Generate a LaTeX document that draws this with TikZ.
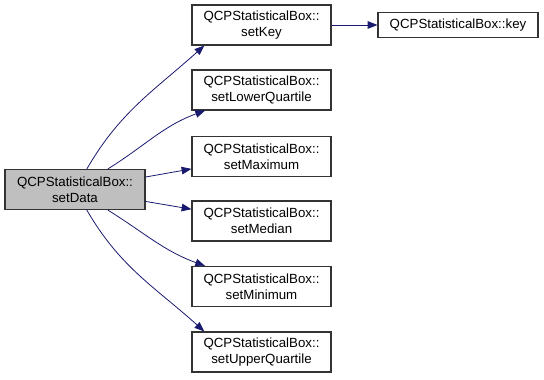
\documentclass[tikz,border=0pt]{standalone}
\usepackage{fontspec}
\setmainfont{Liberation Sans}
\usetikzlibrary{arrows.meta}

\definecolor{edgeblue}{HTML}{191970}
\definecolor{boxgray}{HTML}{BFBFBF}

\begin{document}
\begin{tikzpicture}[
    func/.style={rectangle, draw=black!80, line width=0.8pt, fill=white, minimum width=3.678cm, minimum height=1.058cm, inner sep=0pt, align=center, font=\fontsize{10}{12}\selectfont},
    arrow/.style={-{Triangle[length=2.6mm, width=2mm]}, edgeblue, line width=0.6pt}
]
\useasboundingbox (0, 0) rectangle (14.393, -10.028);

% Caller
\node[func, fill=boxgray, minimum width=3.704cm] (sd) at (1.984, -5.014) {QCPStatisticalBox::\\setData};

% Callees
\node[func] (sk) at (6.919, -0.661) {QCPStatisticalBox::\\setKey};
\node[func] (slq) at (6.919, -2.381) {QCPStatisticalBox::\\setLowerQuartile};
\node[func] (smax) at (6.919, -4.141) {QCPStatisticalBox::\\setMaximum};
\node[func] (smed) at (6.919, -5.847) {QCPStatisticalBox::\\setMedian};
\node[func] (smin) at (6.919, -7.580) {QCPStatisticalBox::\\setMinimum};
\node[func] (suq) at (6.919, -9.313) {QCPStatisticalBox::\\setUpperQuartile};
\node[func, minimum width=4.233cm, minimum height=0.661cm] (key) at (12.118, -0.661) {QCPStatisticalBox::key};

\draw[arrow] (sd) to[out=60, in=222] ([xshift=0.34cm]sk.south west);
\draw[arrow] (sd) to[out=32, in=200] (slq);
\draw[arrow] (sd) -- (smax);
\draw[arrow] (sd) -- (smed);
\draw[arrow] (sd) to[out=-32, in=160] (smin);
\draw[arrow] (sd) to[out=-60, in=138] ([xshift=0.34cm]suq.north west);
\draw[arrow] (sk) -- (key);
\end{tikzpicture}
\end{document}
